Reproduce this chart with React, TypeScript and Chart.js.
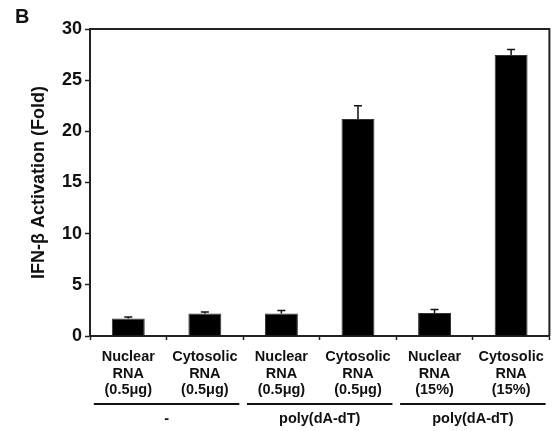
import React, { useEffect, useRef } from "react";
import { Chart, registerables } from "chart.js";

Chart.register(...registerables);

const categories: string[][] = [
  ["Nuclear", "RNA", "(0.5\u03bcg)"],
  ["Cytosolic", "RNA", "(0.5\u03bcg)"],
  ["Nuclear", "RNA", "(0.5\u03bcg)"],
  ["Cytosolic", "RNA", "(0.5\u03bcg)"],
  ["Nuclear", "RNA", "(15%)"],
  ["Cytosolic", "RNA", "(15%)"],
];
const values: number[] = [1.7, 2.2, 2.2, 21.2, 2.25, 27.45];
const errors: number[] = [0.15, 0.15, 0.3, 1.3, 0.35, 0.55];
const groupLabels: string[] = ["-", "poly(dA-dT)", "poly(dA-dT)"];
const groupSpans: number[][] = [[0, 1], [2, 3], [4, 5]];
const yTicks: number[] = [0, 5, 10, 15, 20, 25, 30];
const yTitle = "IFN-\u03b2 Activation (Fold)";
const panelLetter = "B";

const FONT = "'Liberation Sans', Arial, Helvetica, sans-serif";

const overlay = {
  id: "overlay",
  afterDatasetsDraw(chart: any) {
    const ctx = chart.ctx;
    const x = chart.scales.x;
    const y = chart.scales.y;
    const ca = chart.chartArea;
    ctx.save();
    // error bars
    ctx.strokeStyle = "#111";
    ctx.lineWidth = 1.5;
    values.forEach((v, i) => {
      const px = x.getPixelForValue(i);
      const top = y.getPixelForValue(v + errors[i]);
      const base = y.getPixelForValue(v);
      ctx.beginPath();
      ctx.moveTo(px, base);
      ctx.lineTo(px, top);
      ctx.moveTo(px - 4, top);
      ctx.lineTo(px + 4, top);
      ctx.stroke();
    });
    // top and right frame
    ctx.strokeStyle = "#222";
    ctx.lineWidth = 2;
    ctx.beginPath();
    ctx.moveTo(ca.left - 1, ca.top);
    ctx.lineTo(ca.right, ca.top);
    ctx.lineTo(ca.right, ca.bottom);
    ctx.stroke();
    // group lines and labels
    const step = x.getPixelForValue(1) - x.getPixelForValue(0);
    groupSpans.forEach((span, g) => {
      const c = (x.getPixelForValue(span[0]) + x.getPixelForValue(span[1])) / 2;
      const half = step * 0.95;
      ctx.strokeStyle = "#111";
      ctx.lineWidth = 2;
      ctx.beginPath();
      ctx.moveTo(c - half, 404);
      ctx.lineTo(c + half, 404);
      ctx.stroke();
      ctx.fillStyle = "#111";
      ctx.font = `bold 14.5px ${FONT}`;
      ctx.textAlign = "center";
      ctx.textBaseline = "middle";
      ctx.fillText(groupLabels[g], c, 419);
    });
    // y title
    ctx.save();
    ctx.translate(39, (ca.top + ca.bottom) / 2);
    ctx.rotate(-Math.PI / 2);
    ctx.font = `bold 18px ${FONT}`;
    ctx.fillStyle = "#111";
    ctx.textAlign = "center";
    ctx.textBaseline = "middle";
    ctx.fillText(yTitle, 0, 0);
    ctx.restore();
    // panel letter
    ctx.font = `bold 20px ${FONT}`;
    ctx.fillStyle = "#111";
    ctx.textAlign = "left";
    ctx.textBaseline = "alphabetic";
    ctx.fillText(panelLetter, 15, 23);
    ctx.restore();
  },
};

export default function App() {
  const ref = useRef<HTMLCanvasElement | null>(null);
  useEffect(() => {
    document.body.style.margin = "0";
    if (!ref.current) return;
    const chart = new Chart(ref.current, {
      type: "bar",
      data: {
        labels: categories,
        datasets: [
          {
            data: values,
            backgroundColor: "#000",
            borderColor: "#333",
            borderWidth: 1,
            categoryPercentage: 1,
            barPercentage: 0.43,
          },
        ],
      },
      options: {
        animation: false,
        responsive: false,
        maintainAspectRatio: false,
        layout: { padding: { top: 29, right: 3, left: 0, bottom: 0 } },
        plugins: { legend: { display: false }, tooltip: { enabled: false } },
        scales: {
          x: {
            offset: true,
            grid: {
              display: true,
              drawOnChartArea: false,
              drawTicks: true,
              tickLength: 4,
              tickWidth: 1.5,
              tickColor: "#222",
              offset: true,
            },
            border: { display: true, color: "#222", width: 2 },
            ticks: {
              color: "#111",
              font: { family: FONT, size: 14.5, weight: "bold", lineHeight: 1.14 },
              padding: 9,
              maxRotation: 0,
              autoSkip: false,
            },
            afterFit: (s: any) => {
              s.height = 95;
            },
          },
          y: {
            min: 0,
            max: 30,
            afterBuildTicks: (s: any) => {
              s.ticks = yTicks.map((v) => ({ value: v }));
            },
            grid: {
              display: true,
              drawOnChartArea: false,
              drawTicks: true,
              tickLength: 5,
              tickWidth: 1.5,
              tickColor: "#222",
            },
            border: { display: true, color: "#222", width: 2 },
            ticks: {
              color: "#111",
              font: { family: FONT, size: 18, weight: "bold" },
              padding: 3,
            },
            afterFit: (s: any) => {
              s.width = 90;
            },
          },
        },
      },
      plugins: [overlay],
    });
    return () => chart.destroy();
  }, []);
  return (
    <div style={{ width: 553, height: 431, background: "#fff" }}>
      <canvas ref={ref} width={553} height={431} style={{ display: "block" }} />
    </div>
  );
}
